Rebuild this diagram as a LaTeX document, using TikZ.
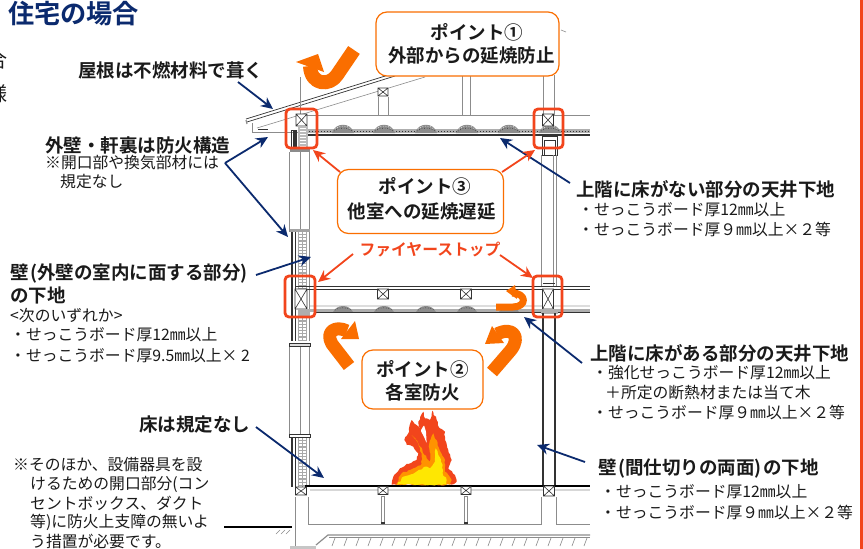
\documentclass[tikz,border=0pt]{standalone}
\usepackage{fontspec}
\setmainfont{Noto Sans CJK JP}[BoldFont={Noto Sans CJK JP Bold}]
\usetikzlibrary{arrows.meta,decorations.pathmorphing}
\definecolor{navy}{HTML}{0B2A6E}
\definecolor{fire}{HTML}{F2451C}
\definecolor{org}{HTML}{FA6E00}
\definecolor{ink}{HTML}{1A1A1A}
\definecolor{gl}{HTML}{8C8C8C}
\definecolor{dk}{HTML}{333333}
\tikzset{
 x=1pt,y=-1pt,
 big/.style={inner sep=0pt,anchor=west,text=ink,font=\bfseries\fontsize{18.5}{18.5}\selectfont},
 small/.style={inner sep=0pt,anchor=west,text=ink,font=\fontsize{15.8}{15.8}\selectfont},
 ptbox/.style={draw=org,line width=1.2pt,fill=white,rounded corners=11pt},
 pttext/.style={inner sep=0pt,text=ink,font=\bfseries\fontsize{18.5}{18.5}\selectfont},
 navyarrow/.style={draw=navy,line width=1.8pt,-{Stealth[length=12pt,width=11pt]}},
 firearrow/.style={draw=fire,line width=1.8pt,-{Stealth[length=12pt,width=11pt]}},
 redsq/.style={draw=fire,line width=2.8pt,rounded corners=4pt},
 thin line/.style={draw=gl,line width=.6pt},
 wallline/.style={draw=gl,line width=1pt},
 heavy/.style={draw=dk,line width=1.7pt},
 bend arrow/.style={draw=org,line cap=butt,line join=round},
 crossbox/.style={draw=dk,line width=.6pt},
 flamey/.style={decorate,decoration={random steps,segment length=2.5pt,amplitude=.8pt}},
}
\newcommand{\xbox}[4]{\draw[crossbox,fill=white] (#1-#3/2,#2-#4/2) rectangle (#1+#3/2,#2+#4/2) (#1-#3/2,#2-#4/2) -- (#1+#3/2,#2+#4/2) (#1+#3/2,#2-#4/2) -- (#1-#3/2,#2+#4/2);}
\begin{document}
\begin{tikzpicture}
\useasboundingbox (0,0) rectangle (863,549);
\clip (0,0) rectangle (863,549);
\fill[white] (0,0) rectangle (863,549);
% page border and cut-off texts
\fill[fire] (860,0) rectangle (862.5,549);
\node[inner sep=0pt,anchor=west,text=navy,font=\bfseries\fontsize{26.2}{26.2}\selectfont] (title) at (8,14) {住宅の場合};
\node[inner sep=0pt,anchor=east,text=ink,font=\fontsize{20}{20}\selectfont] (cutA) at (8,60) {合};
\node[inner sep=0pt,anchor=east,text=ink,font=\fontsize{20}{20}\selectfont] (cutB) at (8,94) {様};
% ===== building =====
% roof
\draw[dk,line width=.7pt] (246,119) -- (395,73);
\draw[dk,line width=.7pt] (247,122) -- (395,76);
\draw[gl,line width=1.2pt] (246,120) -- (247,124);
\draw[thin line] (257,128) -- (425,77);
\draw[thin line] (252,123) -- (252,132) -- (300,132);
\draw[dk,line width=.8pt] (258,129) -- (268,129);
\draw[thin line] (561,30) -- (566,32);
% attic
\draw[thin line] (300,77) -- (300,115);
\draw[wallline] (297,115) -- (590,115);
\draw[thin line] (378,97) -- (378,115) (388,97) -- (388,115) (462,75) -- (462,115) (470,75) -- (470,115) (543,75) -- (543,115) (554,75) -- (554,115);
\xbox{383}{92}{10}{8}
% top ceiling
\fill[gl!70] (306,129) rectangle (590,133);
\draw[dk,line width=1pt,dotted] (306,131) -- (590,131);
\foreach \bx in {343,384,426,467,509,550}{
  \fill[gl] (\bx-11,133) .. controls (\bx-8,122) and (\bx+8,122) .. (\bx+11,133) -- cycle;
  \draw[white,line width=.6pt,dotted] (\bx-8,129) .. controls (\bx-4,125) and (\bx+4,125) .. (\bx+8,129);
  \draw[dk,line width=.6pt,dotted] (\bx-9,131) .. controls (\bx-4,127) and (\bx+4,127) .. (\bx+9,131);
}
\draw[draw=dk,line width=1.6pt] (298,135) -- (590,135);
\xbox{301.5}{120}{11}{12}
\xbox{548}{120}{11}{12}
\fill[dk] (293,130) rectangle (296,147);
\fill[gl!60] (298,126) rectangle (308,148);
\foreach \yy in {128,131,...,146}{\draw[white,line width=1pt] (300,\yy) -- (306,\yy);}
\draw[dk,line width=1pt] (291,130) rectangle (296,148);
% upper right wall
\draw[dk,line width=1pt] (542,136) rectangle (557,155);
\draw[dk,line width=1pt] (544,140) rectangle (555,155);
\draw[wallline] (541,155) -- (541,287) (553,155) -- (553,287) (556,155) -- (556,287);
\draw[thin line] (543,75) -- (543,110);
% left wall, white parts
\draw[wallline] (289,152) -- (289,232) (300,152) -- (300,232) (309,152) -- (309,232);
\fill[gl] (290,149) rectangle (310,152);
\draw[wallline] (289,346) -- (289,436) (300,346) -- (300,436) (309,346) -- (309,436);
\draw[dk,line width=.6pt,fill=gl!30] (289,343) rectangle (310,346);
\draw[dk,line width=.6pt,fill=white] (289,434) rectangle (310,437);
% left wall, insulated parts
\foreach \ya/\yb in {232/341,438/487}{
  \fill[gl!75] (298,\ya) rectangle (307,\yb);
  \draw[white,line width=3pt,dash pattern=on 2pt off 1.2pt] (300.5,\ya) -- (300.5,\yb);
  \draw[white,line width=3pt,dash pattern=on 2pt off 1.2pt] (304.5,\ya) -- (304.5,\yb);
  \draw[dk,line width=1.5pt] (292,\ya) -- (292,\yb);
  \draw[dk,line width=1.5pt] (295.5,\ya) -- (295.5,\yb);
  \draw[wallline] (309.5,\ya) -- (309.5,\yb);
}
\fill[gl!80] (290,229) rectangle (310,232);
% mid floor
\fill[gl!30] (310,305) rectangle (590,307);
\fill[gl!70] (306,309) rectangle (590,312);
\foreach \bx in {343,384,426,467,509}{
  \fill[gl] (\bx-10,312) .. controls (\bx-6,304) and (\bx+6,304) .. (\bx+10,312) -- cycle;
  \draw[dk,line width=.6pt,dotted] (\bx-8,310) .. controls (\bx-4,307) and (\bx+4,307) .. (\bx+8,310);
}
\draw[heavy] (296,286.5) -- (590,286.5);
\draw[dk,line width=.8pt] (296,289) -- (590,289);
\draw[heavy] (315,312.5) -- (590,312.5);
\xbox{383}{294}{11}{10}
\xbox{466}{294}{11}{10}
\xbox{301}{299}{12}{20}
\xbox{548}{299}{11}{20}
\fill[gl!70] (298,309) rectangle (310,316);
\fill[gl!70] (541,309) rectangle (558,314);
\draw[dk,line width=1pt] (543,283) -- (555,283);
% right partition
\draw[dk,line width=1.5pt] (543,313) -- (543,486);
\draw[dk,line width=1.2pt] (555,313) -- (555,486);
% ground floor
\draw[draw=black,line width=1.6pt] (305,486) -- (590,486);
\fill[gl!35] (310,489) rectangle (590,491);
\xbox{383}{490.5}{10}{8}
\xbox{466}{490.5}{10}{8}
\xbox{301}{491}{11}{8}
\xbox{549}{491}{11}{10}
\foreach \px in {383,466}{
  \draw[thin line] (\px-1.5,496) rectangle (\px+1.5,522);
  \fill[dk] (\px-2,522) rectangle (\px+2,524);
}
% foundation
\draw[wallline] (295,497) -- (295,547) (308,497) -- (308,524) -- (541,524) -- (541,497) (556,497) -- (556,524) -- (590,524);
\draw[wallline,line width=1.2pt] (316,545) -- (328,535) -- (590,535);
\draw[thin line] (329,537) -- (590,537);
\foreach \hx in {335,347,...,590}{\draw[thin line] (\hx,538) -- (\hx-3,546);}
\fill[gl!50] (290,546) rectangle (316,549);
\foreach \hx in {280,285,290}{\draw[thin line] (\hx,530) -- (\hx-4,534);}
% flame
\begin{scope}[shift={(270,390)},scale=1/3]
 \fill[fire,flamey] (365,284) -- (370,260) -- (390,235) -- (410,222) -- (425,218) -- (440,210) -- (445,190) -- (430,170) -- (410,165) -- (403,150) -- (415,130) -- (425,90) -- (440,105) -- (452,120) -- (445,95) -- (460,65) -- (465,85) -- (480,90) -- (487,62) -- (500,90) -- (510,115) -- (525,125) -- (525,150) -- (535,180) -- (545,210) -- (535,235) -- (555,255) -- (560,275) -- (545,284) -- cycle;
 \fill[white,rounded corners=1pt] (452,122) -- (462,105) -- (468,125) -- (470,160) -- (462,140) -- cycle;
 \fill[orange!85!yellow,flamey] (376,284) -- (395,250) -- (430,235) -- (455,222) -- (455,190) -- (440,150) -- (425,135) -- (445,160) -- (470,205) -- (480,215) -- (478,160) -- (490,130) -- (505,170) -- (525,210) -- (525,245) -- (545,270) -- (540,284) -- cycle;
 \fill[yellow!90!orange,flamey] (382,284) -- (400,260) -- (435,248) -- (465,230) -- (480,235) -- (495,215) -- (497,175) -- (505,195) -- (518,225) -- (518,250) -- (530,270) -- (530,284) -- cycle;
\end{scope}
% curved arrows
\draw[bend arrow,line width=14pt] (354,50) -- (337,75) .. controls (330,86) and (311,86) .. (310,66);
\fill[org] (296,62) -- (318,54) -- (324,72) -- cycle;
\draw[bend arrow,line width=7pt] (496,307) -- (513,307) .. controls (527,307) and (527,293) .. (512,293);
\fill[org] (506,291) -- (515,285) -- (517,299) -- cycle;
\draw[bend arrow,line width=13pt] (349,366) -- (332,344) .. controls (325,332) and (335,325) .. (347,331);
\fill[org] (359,339) -- (355,321) -- (341,339) -- cycle;
\draw[bend arrow,line width=13pt] (492,372) -- (511,350) .. controls (521,337) and (513,326) .. (497,334);
\fill[org] (485,344) -- (492,326) -- (504,343) -- cycle;
% red squares
\draw[redsq] (286,109) rectangle (317,148);
\draw[redsq] (534,109) rectangle (563,148);
\draw[redsq] (285,276) rectangle (315,317);
\draw[redsq] (533,276) rectangle (562,317);
% point boxes
\node[ptbox,minimum width=183pt,minimum height=64pt,inner sep=0pt] (pone) at (467.5,44) {};
\node[ptbox,minimum width=166pt,minimum height=64pt,inner sep=0pt] (pthree) at (420.5,201.5) {};
\node[ptbox,minimum width=121pt,minimum height=59pt,inner sep=0pt] (ptwo) at (422.5,379.5) {};
\node[pttext] (ponea) at (477,32) {ポイント①};
\node[pttext] (poneb) at (471.5,56) {外部からの延焼防止};
\node[pttext] (pthreea) at (425,186) {ポイント③};
\node[pttext] (pthreeb) at (421.5,212) {他室への延焼遅延};
\node[pttext] (ptwoa) at (422.5,369) {ポイント②};
\node[pttext] (ptwob) at (422.5,392) {各室防火};
\node[inner sep=0pt,text=fire,font=\bfseries\fontsize{15.8}{15.8}\selectfont] (stop) at (430,250) {ファイヤーストップ};
% labels
\node[big] (roof) at (78,70) {屋根は不燃材料で葺く};
\node[big] (outer) at (45,145) {外壁・軒裏は防火構造};
\node[small] (outera) at (45,163) {※開口部や換気部材には};
\node[small] (outerb) at (60,182) {規定なし};
\node[big] (walla) at (10,274) {壁\kern1.5pt(外壁の室内に面する部分)};
\node[big] (wallb) at (10,295) {の下地};
\node[small] (wallc) at (10,316) {<次のいずれか>};
\node[small] (walld) at (10,335) {・せっこうボード厚12㎜以上};
\node[small] (walle) at (10,356) {・せっこうボード厚9.5㎜以上× 2};
\node[big] (floor) at (139,425) {床は規定なし};
\node[small] (nta) at (13,465) {※そのほか、設備器具を設};
\node[small] (ntb) at (30,484) {けるための開口部分(コン};
\node[small] (ntc) at (30,503) {セントボックス、ダクト};
\node[small] (ntd) at (30,522) {等)に防火上支障の無いよ};
\node[small] (nte) at (30,541) {う措置が必要です。};
\node[big] (ceila) at (576,189) {上階に床がない部分の天井下地};
\node[small] (ceilb) at (578,210) {・せっこうボード厚12㎜以上};
\node[small] (ceilc) at (578,229) {・せっこうボード厚９㎜以上×２等};
\node[big] (ceild) at (590,353) {上階に床がある部分の天井下地};
\node[small] (ceile) at (592,373) {・強化せっこうボード厚12㎜以上};
\node[small] (ceilf) at (605,393) {＋所定の断熱材または当て木};
\node[small] (ceilg) at (592,412) {・せっこうボード厚９㎜以上×２等};
\node[big] (part) at (598,469) {壁\kern1.5pt(間仕切りの両面)\kern1.5ptの下地};
\node[small] (parta) at (600,492) {・せっこうボード厚12㎜以上};
\node[small] (partb) at (600,512) {・せっこうボード厚９㎜以上×２等};
% connector ends
\coordinate (roofS) at (238,82); \coordinate (roofT) at (273,109);
\coordinate (elbow) at (225,163); \coordinate (eaveT) at (268,137); \coordinate (wallT) at (288,237);
\coordinate (wlS) at (256,275); \coordinate (wlT) at (311,257);
\coordinate (flS) at (256,427); \coordinate (flT) at (324,478);
\coordinate (cnS) at (570,183); \coordinate (cnT) at (500,138);
\coordinate (cyS) at (582,363); \coordinate (cyT) at (524,317);
\coordinate (ptS) at (585,462); \coordinate (ptT) at (537,445);
\coordinate (noteS) at (224,527); \coordinate (noteE) at (292,527);
\coordinate (tlS) at (340,172); \coordinate (tlT) at (313,150);
\coordinate (trS) at (502,172); \coordinate (trT) at (535,150);
\coordinate (stS) at (353,254); \coordinate (stT) at (318,282);
\coordinate (srS) at (500,255); \coordinate (srT) at (533,278);
% connectors
\draw[navyarrow] (roofS) -- (roofT);
\draw[navyarrow] (elbow) -- (eaveT);
\draw[navyarrow] (elbow) -- (wallT);
\draw[navyarrow] (wlS) -- (wlT);
\draw[navyarrow] (flS) -- (flT);
\draw[navyarrow] (cnS) -- (cnT);
\draw[navyarrow] (cyS) -- (cyT);
\draw[navyarrow] (ptS) -- (ptT);
\draw[black,line width=1.3pt] (noteS) -- (noteE);
\draw[firearrow] (tlS) -- (tlT);
\draw[firearrow] (trS) -- (trT);
\draw[firearrow] (stS) -- (stT);
\draw[firearrow] (srS) -- (srT);
\end{tikzpicture}
\end{document}
